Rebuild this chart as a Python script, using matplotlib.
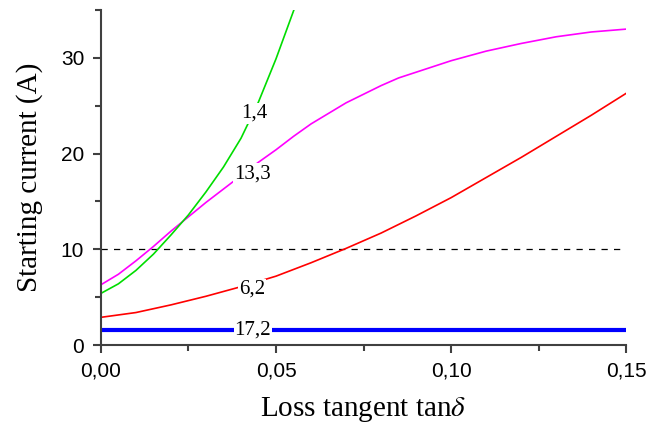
import numpy as np
import matplotlib.pyplot as plt
from matplotlib.ticker import MultipleLocator

plt.rcParams["mathtext.fontset"] = "stix"

# values
x_green = [0.0, 0.005, 0.01, 0.015, 0.02, 0.025, 0.03, 0.035, 0.04, 0.045, 0.05, 0.0551]
y_green = [5.4, 6.4, 7.8, 9.5, 11.5, 13.6, 16.0, 18.6, 21.6, 25.4, 29.9, 35.0]

x_magenta = [0.0, 0.005, 0.01, 0.015, 0.02, 0.025, 0.03, 0.035, 0.04, 0.045, 0.05,
             0.055, 0.06, 0.065, 0.07, 0.075, 0.08, 0.085, 0.09, 0.10, 0.11, 0.12, 0.13, 0.14, 0.15]
y_magenta = [6.3, 7.4, 8.8, 10.3, 11.9, 13.4, 14.9, 16.3, 17.7, 19.1, 20.4,
             21.8, 23.1, 24.2, 25.3, 26.2, 27.1, 27.9, 28.5, 29.7, 30.7, 31.5, 32.2, 32.7, 33.0]

x_red = [0.0, 0.01, 0.02, 0.03, 0.04, 0.05, 0.06, 0.07, 0.08, 0.09, 0.10, 0.11, 0.12, 0.13, 0.14, 0.15]
y_red = [2.9, 3.4, 4.2, 5.1, 6.1, 7.2, 8.6, 10.1, 11.7, 13.5, 15.4, 17.5, 19.6, 21.8, 24.0, 26.3]

x_blue = [0.0, 0.15]
y_blue = [1.6, 1.6]

threshold = 10
labels = ["1,4", "13,3", "6,2", "17,2"]
label_x = [0.0437, 0.0434, 0.0431, 0.0434]
label_y = [24.2, 17.9, 5.85, 1.57]

xticks = [0.0, 0.05, 0.10, 0.15]
xticklabels = ["0,00", "0,05", "0,10", "0,15"]
yticks = [0, 10, 20, 30]

fig = plt.figure(figsize=(6.51, 4.33), dpi=100)
ax = fig.add_axes([0.155, 0.203, 0.807, 0.774])

ax.plot(x_blue, y_blue, color="#0000ff", lw=3.0, zorder=2)
ax.plot(x_red, y_red, color="#ff0000", lw=1.2, zorder=2)
ax.plot(x_magenta, y_magenta, color="#ff00ff", lw=1.2, zorder=2)
ax.plot(x_green, y_green, color="#00dd00", lw=1.2, zorder=2)
ax.plot([0.0, 0.15], [threshold, threshold], color="black", lw=0.9, ls=(0, (5, 5)), zorder=1)

for t, lx, ly in zip(labels, label_x, label_y):
    ax.text(lx, ly, t, ha="center", va="center", fontsize=15, family="Liberation Serif",
            bbox=dict(facecolor="white", edgecolor="none", pad=0.8), zorder=5)

ax.set_xlim(0, 0.15)
ax.set_ylim(0, 35)
ax.set_xticks(xticks)
ax.set_xticklabels(xticklabels)
ax.set_yticks(yticks)
ax.xaxis.set_minor_locator(MultipleLocator(0.025))
ax.yaxis.set_minor_locator(MultipleLocator(5))

for s in ["top", "right"]:
    ax.spines[s].set_visible(False)
for s in ["left", "bottom"]:
    ax.spines[s].set_color("#404040")
    ax.spines[s].set_linewidth(1.5)

ax.tick_params(which="major", direction="out", length=6, width=1.5, color="#404040",
               labelsize=15, pad=6)
ax.tick_params(which="minor", direction="out", length=4, width=1.5, color="#404040")
for lab in ax.get_xticklabels() + ax.get_yticklabels():
    lab.set_family("Liberation Sans")

ax.set_xlabel(r"Loss tangent tan$\delta$", fontsize=21, family="Liberation Serif", labelpad=10)
ax.set_ylabel("Starting current (A)", fontsize=21, family="Liberation Serif", labelpad=13)

fig.savefig("out.png", dpi=100)
